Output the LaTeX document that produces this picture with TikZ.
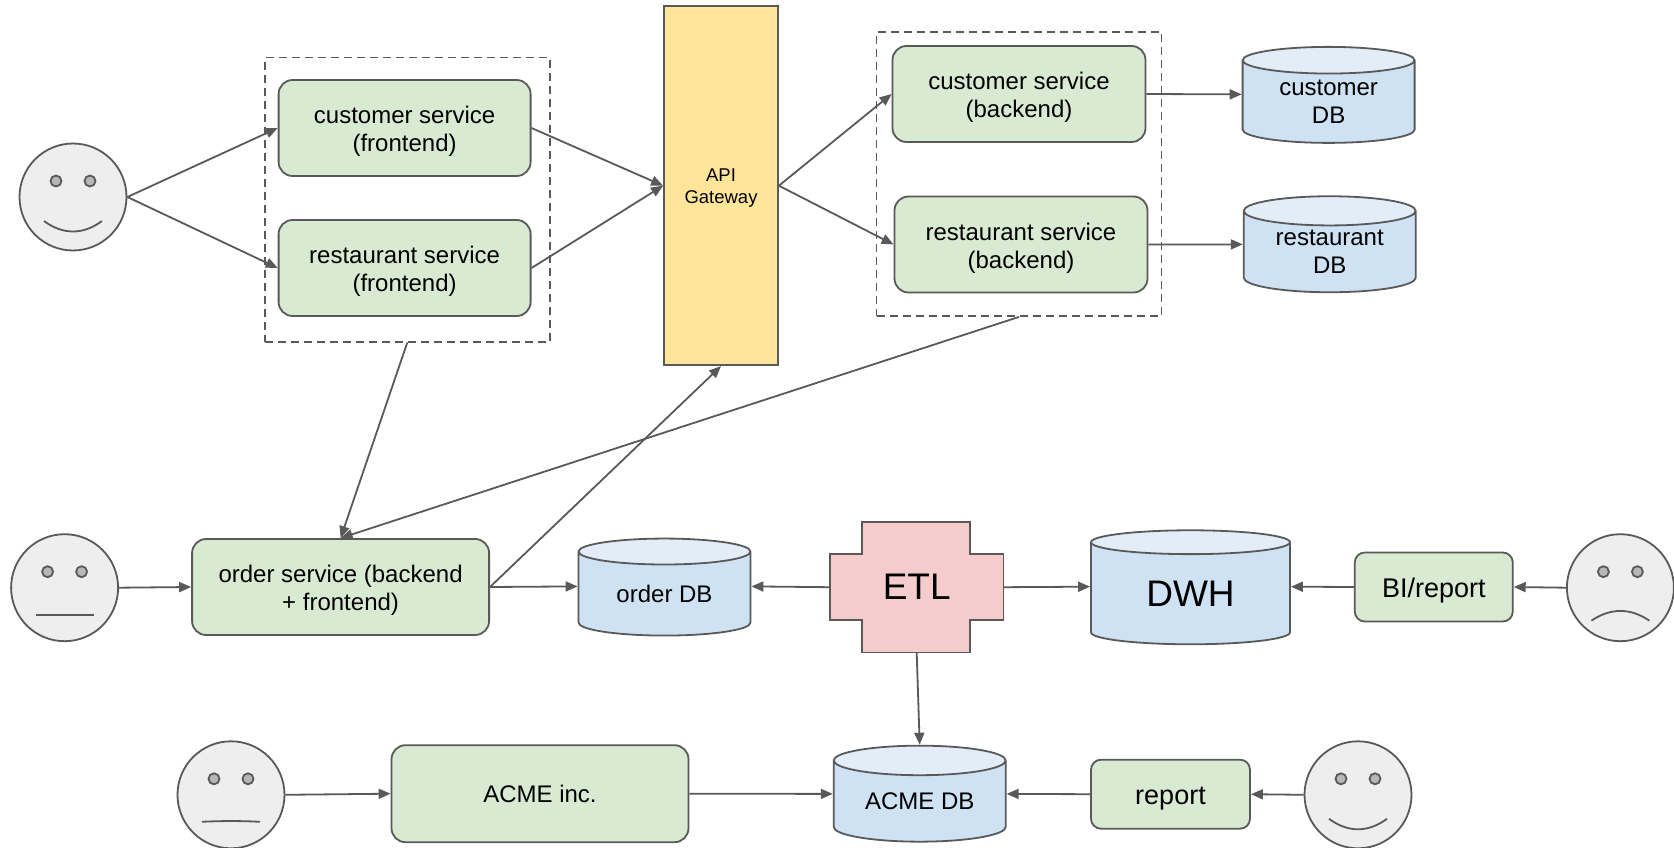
\documentclass[tikz,border=0pt]{standalone}
\usepackage{xcolor}
\usepackage{tikz}
\usepackage{fontspec}
\setmainfont{Liberation Sans}
\definecolor{linegray}{RGB}{89, 89, 89}
\definecolor{servicegreen}{RGB}{217, 234, 211}
\definecolor{dbblue}{RGB}{207, 226, 243}
\definecolor{dbtop}{RGB}{226, 237, 248}
\definecolor{gatewayyellow}{RGB}{255, 229, 153}
\definecolor{etlpink}{RGB}{244, 204, 204}
\definecolor{facegray}{RGB}{238, 238, 238}
\definecolor{eyegray}{RGB}{183, 183, 183}
\usetikzlibrary{shapes.geometric, arrows.meta, positioning}

\tikzset{
    outline/.style={draw=linegray, line width=1.8pt},
    textdown/.style={execute at begin node={\rule{0pt}{#1}}},
    service/.style={outline, fill=servicegreen, rounded corners=14pt, align=center, inner sep=0pt, font=\fontsize{24}{27.8}\selectfont},
    smallservice/.style={service, rounded corners=10pt, textdown=26pt, font=\fontsize{27}{30}\selectfont},
    database/.style={outline, cylinder, shape border rotate=90, aspect=0.27, cylinder uses custom fill, cylinder body fill=dbblue, cylinder end fill=dbtop, align=center, inner sep=0pt, font=\fontsize{24}{27.8}\selectfont},
    usergroup/.style={draw=linegray, line width=1.8pt, dash pattern=on 8pt off 5pt, inner sep=0pt},
    face/.style={outline, fill=facegray, circle, minimum size=107pt, inner sep=0pt},
    eye/.style={outline, fill=eyegray, circle, minimum size=11pt, inner sep=0pt},
    link/.style={draw=linegray, line width=1.8pt, -{Triangle[length=12pt, width=10pt]}}
}

% #1 name, #2 position, #3 and #4 mouth corner and middle height
\newcommand{\userface}[4]{
    \node[face] (#1) at (#2) {};
    \node[eye] (#1eyeleft) at ([shift={(-17,-16)}]#1.center) {};
    \node[eye] (#1eyeright) at ([shift={(17,-16)}]#1.center) {};
    \draw[linegray, line width=1.8pt] ([shift={(-29,#3)}]#1.center) .. controls ([shift={(-10,#4)}]#1.center) and ([shift={(10,#4)}]#1.center) .. ([shift={(29,#3)}]#1.center);
}

\begin{document}
\begin{tikzpicture}[x=1pt, y=-1pt]
    \useasboundingbox (0,0) rectangle (1674,848);

    \node[usergroup, minimum width=285pt, minimum height=284pt] (frontgroup) at (407.3,199.6) {};
    \node[usergroup, minimum width=285pt, minimum height=284pt] (backgroup) at (1019,174) {};

    \userface{webuser}{73,197}{24}{38}
    \userface{orderuser}{64.6,587.7}{27}{27}
    \userface{biuser}{1620.4,587.7}{33}{20}
    \userface{acmeuser}{231,794.8}{27}{26}
    \userface{reportuser}{1358,794.8}{24}{38}

    \node[service, textdown=51pt, minimum width=252pt, minimum height=96pt] (customerfront) at (404.6,128) {customer service\\(frontend)};
    \node[service, textdown=51pt, minimum width=252pt, minimum height=96pt] (restaurantfront) at (404.6,268) {restaurant service\\(frontend)};
    \node[outline, fill=gatewayyellow, minimum width=114pt, minimum height=359pt, align=center, inner sep=0pt, textdown=39pt, font=\fontsize{18.5}{21.4}\selectfont] (gateway) at (721,185.7) {API\\Gateway};
    \node[service, textdown=51pt, minimum width=253pt, minimum height=96pt] (customerback) at (1019,94) {customer service\\(backend)};
    \node[service, textdown=52pt, minimum width=253pt, minimum height=96pt] (restaurantback) at (1021,244.5) {restaurant service\\(backend)};
    \node[database, minimum width=172pt, minimum height=96pt] (customerdb) at (1328.6,102) {customer\\DB};
    \node[database, minimum width=172pt, minimum height=96pt] (restaurantdb) at (1329.7,252) {restaurant\\DB};

    \node[service, textdown=51pt, minimum width=297pt, minimum height=96pt] (orderservice) at (340.6,587) {order service (backend\\+ frontend)};
    \node[database, minimum width=172pt, minimum height=97pt] (orderdb) at (664.5,594) {order DB};
    \draw[outline, fill=etlpink] (862,522) -- (970,522) -- (970,554) -- (1003.5,554) -- (1003.5,620) -- (970,620) -- (970,652.5) -- (862,652.5) -- (862,620) -- (830,620) -- (830,554) -- (862,554) -- cycle;
    \node[minimum width=173.5pt, minimum height=130.5pt, inner sep=0pt, font=\fontsize{37}{40}\selectfont] (etl) at (916.7,587.2) {ETL};
    \node[database, minimum width=199pt, minimum height=114pt, font=\fontsize{37}{40}\selectfont] (dwh) at (1190.5,593.7) {DWH};
    \node[smallservice, minimum width=158pt, minimum height=69pt] (bireport) at (1433.8,587) {BI/report};

    \node[service, minimum width=297pt, minimum height=97pt] (acme) at (540,793.7) {ACME inc.};
    \node[database, minimum width=172pt, minimum height=96pt] (acmedb) at (919.7,801.5) {ACME DB};
    \node[smallservice, minimum width=159pt, minimum height=69pt] (report) at (1170.5,794.2) {report};

    \draw[link] (webuser.east) -- (customerfront.west);
    \draw[link] (webuser.east) -- (restaurantfront.west);
    \draw[link] (customerfront.east) -- (gateway.west);
    \draw[link] (restaurantfront.east) -- (gateway.west);
    \draw[link] (gateway.east) -- (customerback.west);
    \draw[link] (gateway.east) -- (restaurantback.west);
    \draw[link] (customerback.east) -- (customerdb.175);
    \draw[link] (restaurantback.east) -- (restaurantdb.175);
    \draw[link] (frontgroup.south) -- (orderservice.north);
    \draw[link] (backgroup.south) -- (orderservice.north);
    \draw[link] (orderservice.east) -- (gateway.south);
    \draw[link] (orderuser.east) -- (orderservice.west);
    \draw[link] (orderservice.east) -- (orderdb.175);
    \draw[link] (etl.west) -- (orderdb.5);
    \draw[link] (etl.east) -- (dwh.176);
    \draw[link] (bireport.west) -- (dwh.4);
    \draw[link] (biuser.west) -- (bireport.east);
    \draw[link] (etl.south) -- (acmedb.north);
    \draw[link] (acmeuser.east) -- (acme.west);
    \draw[link] (acme.east) -- (acmedb.175);
    \draw[link] (report.west) -- (acmedb.5);
    \draw[link] (reportuser.west) -- (report.east);
\end{tikzpicture}
\end{document}
